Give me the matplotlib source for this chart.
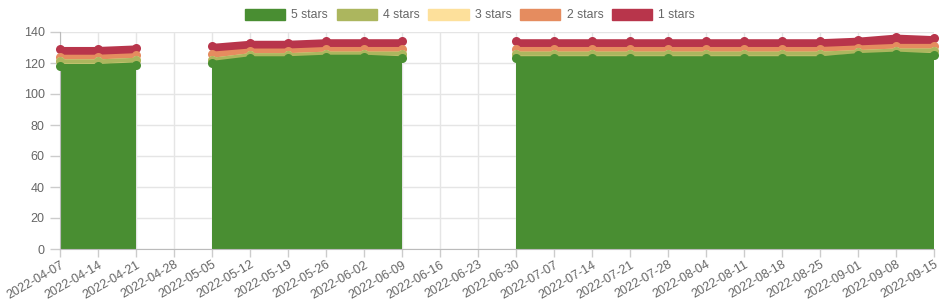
import numpy as np
import matplotlib
matplotlib.use("Agg")
import matplotlib.pyplot as plt
from matplotlib.patches import Patch

plt.rcParams['font.family'] = ['Liberation Sans', 'DejaVu Sans']

dates = ['2022-04-07', '2022-04-14', '2022-04-21', '2022-04-28', '2022-05-05', '2022-05-12',
         '2022-05-19', '2022-05-26', '2022-06-02', '2022-06-09', '2022-06-16', '2022-06-23',
         '2022-06-30', '2022-07-07', '2022-07-14', '2022-07-21', '2022-07-28', '2022-08-04',
         '2022-08-11', '2022-08-18', '2022-08-25', '2022-09-01', '2022-09-08', '2022-09-15']
n = np.nan
# 没有数据的周用 nan
stars5 = [118, 118, 119, n, 120, 123, 123, 124, 124, 123, n, n,
          123, 123, 123, 123, 123, 123, 123, 123, 123, 125, 126, 125]
stars4 = [3, 3, 3, n, 2, 2, 2, 2, 2, 3, n, n,
          3, 3, 3, 3, 3, 3, 3, 3, 3, 2, 2, 3]
stars3 = [0, 0, 0, n, 0, 0, 0, 0, 0, 0, n, n,
          0, 0, 0, 0, 0, 0, 0, 0, 0, 0, 0, 0]
stars2 = [3, 3, 3, n, 4, 3, 3, 3, 3, 3, n, n,
          3, 3, 3, 3, 3, 3, 3, 3, 3, 3, 3, 3]
stars1 = [5, 5, 5, n, 5, 5, 5, 5, 5, 5, n, n,
          5, 5, 5, 5, 5, 5, 5, 5, 5, 5, 6, 5]

labels = ['5 stars', '4 stars', '3 stars', '2 stars', '1 stars']
colors = ['#498e32', '#acb65e', '#fde09b', '#e58c5f', '#b8354b']
series = [stars5, stars4, stars3, stars2, stars1]

fig = plt.figure(figsize=(9.4, 3.0), dpi=100)
ax = fig.add_axes([60/940, 51/300, 874/940, 217/300])

x = np.arange(len(dates))
bottom = np.zeros(len(dates))
tops = []
for s in series:
    top = bottom + np.array(s, dtype=float)
    tops.append((bottom.copy(), top))
    bottom = top

# 先画上层, 下层盖在上面
for i in range(len(series) - 1, -1, -1):
    b, t = tops[i]
    ax.fill_between(x, b, t, color=colors[i], linewidth=0, zorder=2)
for i in range(len(series) - 1, -1, -1):
    b, t = tops[i]
    ax.plot(x, t, color=colors[i], lw=3, marker='o', ms=6.5, mew=0, zorder=3,
            solid_capstyle='round', clip_on=False)

ax.set_xlim(0, len(dates) - 1)
ax.set_ylim(0, 140)
ax.set_yticks(range(0, 141, 20))
ax.set_xticks(x)
ax.set_xticklabels(dates, rotation=30, ha='right', va='top', rotation_mode='anchor')
ax.tick_params(axis='both', colors='#cccccc', labelcolor='#666666', labelsize=9, width=1)
ax.tick_params(axis='y', pad=4, length=7)
ax.tick_params(axis='x', pad=1, length=6)
ax.grid(True, color='#e5e5e5', lw=1, zorder=0)
ax.set_axisbelow(True)
for sp in ['top', 'right']:
    ax.spines[sp].set_visible(False)
ax.spines['left'].set_color('#bbbbbb')
ax.spines['bottom'].set_color('#bbbbbb')

handles = [Patch(facecolor=c, edgecolor=c, label=l) for c, l in zip(colors, labels)]
fig.legend(handles=handles, loc='center', bbox_to_anchor=(0.5, 1 - 15/300), ncol=5,
           frameon=False, fontsize=8.8, handlelength=3.3, handleheight=1.0,
           handletextpad=0.5, columnspacing=0.7, labelcolor='#666666')

fig.savefig('out.png', dpi=100)
